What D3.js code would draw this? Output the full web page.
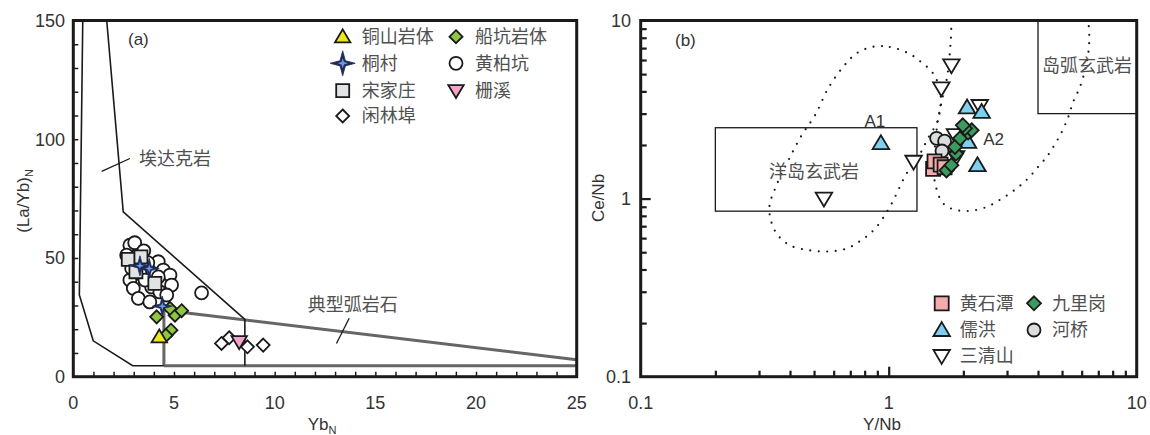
<!DOCTYPE html>
<html>
<head>
<meta charset="utf-8">
<script src="https://cdn.jsdelivr.net/npm/d3@7"></script>
<style>
  body { margin: 0; background: #fff; }
  text { font-family: "Liberation Sans", Arial, "Noto Sans CJK SC", sans-serif; }
  .cn { font-family: "Noto Sans CJK SC", sans-serif; fill: #505050; }
</style>
</head>
<body>
<div id="chart"></div>
<script>
// ---------------- data : panel (a)  YbN vs (La/Yb)N ----------------
var tongshan      = [[4.27, 16.8]];
var chuankeng     = [[4.14, 25.2], [5.05, 25.9], [5.38, 27.8], [4.8, 28.8], [4.85, 19.6], [4.6, 17.4]];
var tongcun       = [[3.31, 46.7], [3.77, 45.6], [4.42, 29.7]];
var huangbaikeng  = [[2.81, 55.4], [3.05, 56.4], [2.65, 51.2], [4.22, 48.4], [4.47, 44.9], [4.8, 42.8],
                     [4.88, 38.6], [2.81, 40.7], [2.98, 37.2], [3.23, 33.0], [3.8, 31.5], [6.37, 35.3],
                     [3.31, 43.5], [3.89, 37.8], [4.3, 35.7], [4.64, 34.4], [3.56, 40.7], [4.22, 42.0],
                     [3.7, 48.0], [2.9, 45.6], [3.5, 53.0]];
var songjiazhuang = [[2.73, 49.4], [3.36, 50.5], [3.11, 44.2], [4.05, 39.3]];
var zhaxi         = [[8.24, 14.7]];
var xianlinbu     = [[7.36, 14.0], [7.74, 16.4], [8.65, 12.6], [9.43, 13.3]];

// field boundaries (a)
var adakiteOuter = [[0.47, 150], [0.30, 34.4], [0.99, 15.1], [2.95, 4.6], [4.5, 4.6]];
var adakiteInner = [[1.66, 150], [2.48, 69.4], [8.52, 24.1], [8.52, 4.6]];
var arcField     = [[4.5, 4.6], [4.5, 28.0], [25, 7.1]];
var arcBottom    = [[4.5, 4.6], [25, 4.6]];

var xTicksA = [0, 5, 10, 15, 20, 25];
var yTicksA = [0, 50, 100, 150];

// ---------------- data : panel (b)  Y/Nb vs Ce/Nb ----------------
var huangshitan = [[1.51, 1.47], [1.53, 1.62], [1.62, 1.55], [1.68, 1.5]];
var ruhong      = [[0.93, 2.05], [2.07, 3.25], [2.37, 3.07], [2.09, 2.08], [2.28, 1.54]];
var sanqingshan = [[1.79, 5.6], [1.63, 4.16], [1.26, 1.61], [0.548, 1.0], [2.33, 3.31], [1.85, 2.27], [1.87, 1.71]];
var heqiao      = [[1.56, 2.18], [1.68, 2.1], [1.64, 1.85]];
var jiuligang   = [[1.71, 1.44], [1.79, 1.54], [1.87, 1.79], [1.85, 1.95], [1.94, 2.18], [2.09, 2.35],
                   [2.16, 2.42], [2.03, 2.48], [1.99, 2.58]];

var oibBox = [0.2, 1.3, 0.85, 2.5];   // x0, x1, y0, y1
var iabBox = [4, 10, 3, 10];

var curveA1 = [[0.867, 7.13], [1.01, 7.1], [1.2, 6.55], [1.36, 5.8], [1.51, 5.05], [1.61, 4.07], [1.61, 3.14],
               [1.56, 2.64], [1.45, 2.22], [1.34, 1.79], [1.18, 1.38], [1.01, 0.897], [0.881, 0.678],
               [0.773, 0.582], [0.673, 0.523], [0.57, 0.505], [0.482, 0.512], [0.40, 0.546], [0.35, 0.649],
               [0.33, 0.879], [0.353, 1.19], [0.394, 1.64], [0.446, 2.27], [0.505, 2.94], [0.57, 4.16],
               [0.656, 5.5], [0.743, 6.55]];
var curveA2 = [[1.79, 10], [1.78, 7.78], [1.72, 4.81], [1.64, 3.57], [1.58, 2.76], [1.54, 2.05], [1.52, 1.44],
               [1.54, 1.21], [1.64, 0.957], [1.79, 0.878], [2.09, 0.852], [2.48, 0.897], [2.86, 1.0],
               [3.28, 1.14], [3.65, 1.30], [4.01, 1.51], [4.33, 1.71], [4.61, 1.95], [4.99, 2.37],
               [5.3, 2.88], [5.55, 3.5], [5.91, 4.25], [6.19, 5.27], [6.38, 6.55], [6.44, 8.12], [6.38, 10]];

var xTicksB = [0.1, 1, 10];
var yTicksB = [0.1, 1, 10];
var minorB  = [0.2, 0.3, 0.4, 0.5, 0.6, 0.7, 0.8, 0.9, 2, 3, 4, 5, 6, 7, 8, 9];

// ---------------- svg ----------------
var svg = d3.select("#chart").append("svg")
    .attr("width", 1150).attr("height", 435);

// marker shapes
function starPath(s, inner) {
  var p = [];
  for (var i = 0; i < 8; i++) {
    var r = i % 2 == 0 ? s : s * inner;
    var a = i * Math.PI / 4 - Math.PI / 2;
    p.push([r * Math.cos(a), r * Math.sin(a)]);
  }
  return "M" + p.join("L") + "Z";
}

function markerPath(type, s) {
  if (type == "circle") return d3.symbol(d3.symbolCircle, Math.PI * s * s)();
  if (type == "square") return "M" + (-s) + "," + (-s) + "H" + s + "V" + s + "H" + (-s) + "Z";
  if (type == "diamond") return "M0," + (-s) + "L" + s + ",0L0," + s + "L" + (-s) + ",0Z";
  if (type == "tri") return "M0," + (-s * 1.05) + "L" + (s * 1.1) + "," + (s * 0.8) + "L" + (-s * 1.1) + "," + (s * 0.8) + "Z";
  if (type == "itri") return "M0," + (s * 1.05) + "L" + (s * 1.1) + "," + (-s * 0.8) + "L" + (-s * 1.1) + "," + (-s * 0.8) + "Z";
  if (type == "star") return starPath(s, 0.3);
}

function drawMarker(g, type, cx, cy, s, fill) {
  g.append("path").attr("d", markerPath(type, s))
    .attr("transform", "translate(" + cx + "," + cy + ")")
    .attr("fill", type == "star" ? "#1f2a58" : fill)
    .attr("stroke", type == "star" ? "#1f2a58" : "#1a1a1a")
    .attr("stroke-width", type == "star" ? 0.8 : 1.8).attr("stroke-linejoin", "miter");
  if (type == "star") {
    g.append("path").attr("d", starPath(s * 0.4, 0.35))
      .attr("transform", "translate(" + cx + "," + cy + ")")
      .attr("fill", fill);
  }
}

function drawSeries(g, data, x, y, type, s, fill) {
  data.forEach(function(d) { drawMarker(g, type, x(d[0]), y(d[1]), s, fill); });
}

// ======================= panel (a) =======================
var xa = d3.scaleLinear().domain([0, 25]).range([73.3, 576.7]);
var ya = d3.scaleLinear().domain([0, 150]).range([376.7, 20.5]);
var ga = svg.append("g");

var lineA = d3.line().x(function(d) { return xa(d[0]); }).y(function(d) { return ya(d[1]); });

ga.append("path").attr("d", lineA(arcField)).attr("fill", "none").attr("stroke", "#666").attr("stroke-width", 3);
ga.append("path").attr("d", lineA(arcBottom)).attr("fill", "none").attr("stroke", "#666").attr("stroke-width", 3);
ga.append("path").attr("d", lineA(adakiteOuter)).attr("fill", "none").attr("stroke", "#1a1a1a").attr("stroke-width", 1.6);
ga.append("path").attr("d", lineA(adakiteInner)).attr("fill", "none").attr("stroke", "#1a1a1a").attr("stroke-width", 1.6);

// leaders and field names
ga.append("path").attr("d", lineA([[1.41, 86.5], [2.81, 91.9]])).attr("stroke", "#1a1a1a").attr("stroke-width", 1.3);
ga.append("path").attr("d", lineA([[13.7, 24.6], [13.07, 14.0]])).attr("stroke", "#1a1a1a").attr("stroke-width", 1.3);
ga.append("text").attr("class", "cn").attr("x", xa(3.26)).attr("y", ya(92)).attr("dy", "0.35em")
  .style("font-size", "18px").text("埃达克岩");
ga.append("text").attr("class", "cn").attr("x", xa(11.64)).attr("y", ya(30.2)).attr("dy", "0.35em")
  .style("font-size", "18px").text("典型弧岩石");

// points
drawSeries(ga, huangbaikeng, xa, ya, "circle", 6.5, "#fff");
drawSeries(ga, songjiazhuang, xa, ya, "square", 6.5, "#e2e3e5");
drawSeries(ga, chuankeng, xa, ya, "diamond", 6.5, "#8dc63f");
drawSeries(ga, tongcun, xa, ya, "star", 10, "#6b9be0");
drawSeries(ga, tongshan, xa, ya, "tri", 7, "#ece81c");
drawSeries(ga, xianlinbu, xa, ya, "diamond", 6.5, "#fff");
drawSeries(ga, zhaxi, xa, ya, "itri", 7, "#f5a3c8");

// frame + ticks
ga.append("rect").attr("x", xa(0)).attr("y", ya(150)).attr("width", xa(25) - xa(0)).attr("height", ya(0) - ya(150))
  .attr("fill", "none").attr("stroke", "#1a1a1a").attr("stroke-width", 3);
ga.append("g").attr("transform", "translate(0," + ya(0) + ")")
  .call(d3.axisBottom(xa).tickValues(d3.range(1, 25)).tickSize(-5).tickFormat(""))
  .call(function(g) { g.select(".domain").remove(); g.selectAll("line").attr("stroke", "#1a1a1a").attr("stroke-width", 1.5); });
ga.append("g").attr("transform", "translate(" + xa(0) + ",0)")
  .call(d3.axisLeft(ya).tickValues(d3.range(10, 150, 10)).tickSize(-5).tickFormat(""))
  .call(function(g) { g.select(".domain").remove(); g.selectAll("line").attr("stroke", "#1a1a1a").attr("stroke-width", 1.5); });

xTicksA.forEach(function(v) {
  ga.append("text").attr("x", xa(v)).attr("y", 409).attr("text-anchor", "middle")
    .style("font-size", "18px").attr("fill", "#333").text(v);
});
yTicksA.forEach(function(v) {
  ga.append("text").attr("x", 65).attr("y", ya(v)).attr("dy", "0.35em").attr("text-anchor", "end")
    .style("font-size", "18px").attr("fill", "#333").text(v);
});
var xl = ga.append("text").attr("x", 322).attr("y", 430).attr("text-anchor", "middle").style("font-size", "17px").attr("fill", "#333");
xl.append("tspan").text("Yb");
xl.append("tspan").attr("dy", 4).style("font-size", "11px").text("N");
var yl = ga.append("text").attr("transform", "translate(29,201) rotate(-90)").attr("text-anchor", "middle")
  .style("font-size", "17px").attr("fill", "#333");
yl.append("tspan").text("(La/Yb)");
yl.append("tspan").attr("dy", 4).style("font-size", "11px").text("N");
ga.append("text").attr("x", 128).attr("y", 39).attr("dy", "0.35em").style("font-size", "17px").attr("fill", "#333").text("(a)");

// legend (a)
var legA = [
  ["tri", 7, "#ece81c", "铜山岩体", 342.7, 36.7],
  ["diamond", 6.5, "#8dc63f", "船坑岩体", 456, 36.7],
  ["star", 12.5, "#6b9be0", "桐村", 342.7, 63.3],
  ["circle", 6.5, "#fff", "黄柏坑", 456, 63.3],
  ["square", 6.5, "#e2e3e5", "宋家庄", 342.7, 90.7],
  ["itri", 7, "#f5a3c8", "栅溪", 456, 90.7],
  ["diamond", 6.5, "#fff", "闲林埠", 342.7, 116]
];
legA.forEach(function(d) {
  drawMarker(ga, d[0], d[4], d[5], d[1], d[2]);
  ga.append("text").attr("class", "cn").attr("x", d[4] + 19).attr("y", d[5]).attr("dy", "0.35em")
    .style("font-size", "18px").text(d[3]);
});

// ======================= panel (b) =======================
var xb = d3.scaleLog().domain([0.1, 10]).range([640.7, 1136.7]);
var yb = d3.scaleLog().domain([0.1, 10]).range([376.7, 20.5]);
var gb = svg.append("g");
var lineB = d3.line().x(function(d) { return xb(d[0]); }).y(function(d) { return yb(d[1]); });

// field boxes
[oibBox, iabBox].forEach(function(b) {
  gb.append("rect").attr("x", xb(b[0])).attr("y", yb(b[3])).attr("width", xb(b[1]) - xb(b[0]))
    .attr("height", yb(b[2]) - yb(b[3])).attr("fill", "none").attr("stroke", "#1a1a1a").attr("stroke-width", 1.3);
});

// dotted fields
gb.append("path").attr("d", lineB.curve(d3.curveCatmullRomClosed)(curveA1)).attr("fill", "none")
  .attr("stroke", "#1a1a1a").attr("stroke-width", 2.2).attr("stroke-linecap", "round").attr("stroke-dasharray", "0 8.5");
gb.append("path").attr("d", lineB.curve(d3.curveCatmullRom)(curveA2)).attr("fill", "none")
  .attr("stroke", "#1a1a1a").attr("stroke-width", 2.2).attr("stroke-linecap", "round").attr("stroke-dasharray", "0 8.5");

gb.append("text").attr("class", "cn").attr("x", xb(0.5)).attr("y", yb(1.42)).attr("dy", "0.35em")
  .attr("text-anchor", "middle").style("font-size", "18px").text("洋岛玄武岩");
gb.append("text").attr("class", "cn").attr("x", xb(6.3)).attr("y", yb(5.6)).attr("dy", "0.35em")
  .attr("text-anchor", "middle").style("font-size", "18px").text("岛弧玄武岩");
gb.append("text").attr("x", xb(0.88)).attr("y", yb(2.72)).attr("dy", "0.35em").attr("text-anchor", "middle")
  .style("font-size", "17px").attr("fill", "#333").text("A1");
gb.append("text").attr("x", xb(2.65)).attr("y", yb(2.16)).attr("dy", "0.35em").attr("text-anchor", "middle")
  .style("font-size", "17px").attr("fill", "#333").text("A2");

// points
drawSeries(gb, sanqingshan, xb, yb, "itri", 7.5, "#fff");
drawSeries(gb, ruhong, xb, yb, "tri", 7.5, "#7fd0f0");
drawSeries(gb, heqiao, xb, yb, "circle", 6.5, "#dcdde0");
drawSeries(gb, huangshitan, xb, yb, "square", 7, "#f4abab");
drawSeries(gb, jiuligang, xb, yb, "diamond", 7, "#3e9b5e");

// frame + ticks
gb.append("rect").attr("x", xb(0.1)).attr("y", yb(10)).attr("width", xb(10) - xb(0.1)).attr("height", yb(0.1) - yb(10))
  .attr("fill", "none").attr("stroke", "#1a1a1a").attr("stroke-width", 3);
gb.append("g").attr("transform", "translate(0," + yb(0.1) + ")")
  .call(d3.axisBottom(xb).tickValues(minorB).tickSize(-6).tickFormat(""))
  .call(function(g) { g.select(".domain").remove(); g.selectAll("line").attr("stroke", "#1a1a1a").attr("stroke-width", 2.2); });
gb.append("g").attr("transform", "translate(0," + yb(0.1) + ")")
  .call(d3.axisBottom(xb).tickValues([1]).tickSize(-10).tickFormat(""))
  .call(function(g) { g.select(".domain").remove(); g.selectAll("line").attr("stroke", "#1a1a1a").attr("stroke-width", 2.2); });
gb.append("g").attr("transform", "translate(" + xb(0.1) + ",0)")
  .call(d3.axisLeft(yb).tickValues(minorB).tickSize(-6).tickFormat(""))
  .call(function(g) { g.select(".domain").remove(); g.selectAll("line").attr("stroke", "#1a1a1a").attr("stroke-width", 2.2); });
gb.append("g").attr("transform", "translate(" + xb(0.1) + ",0)")
  .call(d3.axisLeft(yb).tickValues([1]).tickSize(-10).tickFormat(""))
  .call(function(g) { g.select(".domain").remove(); g.selectAll("line").attr("stroke", "#1a1a1a").attr("stroke-width", 2.2); });

xTicksB.forEach(function(v) {
  gb.append("text").attr("x", xb(v)).attr("y", 409).attr("text-anchor", "middle")
    .style("font-size", "18px").attr("fill", "#333").text(v);
});
yTicksB.forEach(function(v) {
  gb.append("text").attr("x", 631).attr("y", yb(v)).attr("dy", "0.35em").attr("text-anchor", "end")
    .style("font-size", "18px").attr("fill", "#333").text(v);
});
gb.append("text").attr("x", 882).attr("y", 430).attr("text-anchor", "middle").style("font-size", "17px")
  .attr("fill", "#333").text("Y/Nb");
gb.append("text").attr("transform", "translate(604,198) rotate(-90)").attr("text-anchor", "middle")
  .style("font-size", "17px").attr("fill", "#333").text("Ce/Nb");
gb.append("text").attr("x", 675).attr("y", 40).attr("dy", "0.35em").style("font-size", "17px").attr("fill", "#333").text("(b)");

// legend (b)
var legB = [
  ["square", 7, "#f4abab", "黄石潭", 941.7, 303.3],
  ["diamond", 7, "#3e9b5e", "九里岗", 1034, 303.3],
  ["tri", 7.5, "#7fd0f0", "儒洪", 941.7, 330],
  ["circle", 6.5, "#dcdde0", "河桥", 1034, 330],
  ["itri", 7.5, "#fff", "三清山", 941.7, 356]
];
legB.forEach(function(d) {
  drawMarker(gb, d[0], d[4], d[5], d[1], d[2]);
  gb.append("text").attr("class", "cn").attr("x", d[4] + 18).attr("y", d[5]).attr("dy", "0.35em")
    .style("font-size", "18px").text(d[3]);
});
</script>
</body>
</html>
